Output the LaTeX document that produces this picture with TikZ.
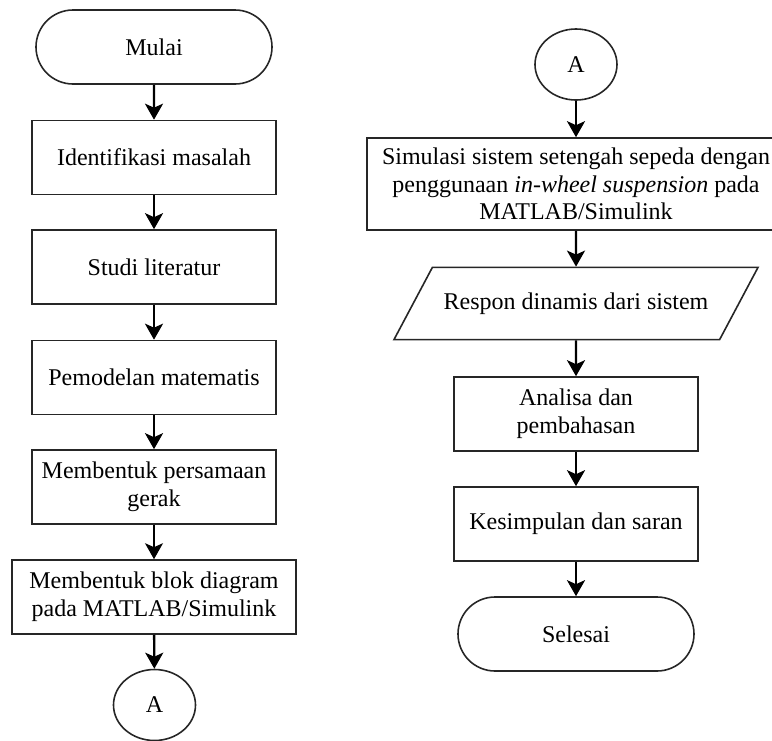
\documentclass[tikz,border=0pt]{standalone}
\usepackage{fontspec}
\setmainfont{Liberation Serif}
\usetikzlibrary{positioning, arrows.meta, shapes.geometric, shapes.misc}

\begin{document}
\begin{tikzpicture}[x=0.5pt, y=-0.5pt,
  every node/.style={font=\fontsize{12}{13.8}\selectfont, align=center, inner sep=2pt},
  box/.style={draw=black!85, line width=0.8pt, rectangle, minimum width=122pt, minimum height=37pt},
  term/.style={draw=black!85, line width=0.8pt, rounded rectangle, minimum width=122pt, minimum height=37pt},
  conn/.style={draw=black!85, line width=0.8pt, ellipse, minimum width=41pt, minimum height=35.5pt},
  io/.style={draw=black!85, line width=0.8pt, trapezium, trapezium left angle=62, trapezium right angle=118,
    trapezium stretches body=true, inner ysep=12.6pt, minimum width=182pt},
  flow/.style={line width=1.2pt, -{Stealth[length=8pt, width=9pt, inset=2pt]}}]
\useasboundingbox (0,0) rectangle (772,740);

% Define the nodes (left column)
\node[term] (mulai) at (154, 47) {Mulai};
\node[box] (ident) at (154, 157.5) {Identifikasi masalah};
\node[box] (studi) at (154, 267) {Studi literatur};
\node[box] (model) at (154, 377.5) {Pemodelan matematis};
\node[box] (gerak) at (154, 487) {Membentuk persamaan\\ gerak};
\node[box, minimum width=142pt] (blok) at (154, 597) {Membentuk blok diagram\\ pada MATLAB/Simulink};
\node[conn] (conA) at (154.5, 705) {A};

% Define the nodes (right column)
\node[conn] (conB) at (576, 64.5) {A};
\node[box, minimum width=209pt, minimum height=46pt] (simul) at (576, 184)
  {Simulasi sistem setengah sepeda dengan\\ penggunaan \textit{in-wheel suspension} pada\\ MATLAB/Simulink};
\node[io] (resp) at (576, 303.5) {Respon dinamis dari sistem};
\node[box] (anal) at (576, 414) {Analisa dan\\ pembahasan};
\node[box] (simp) at (576, 524) {Kesimpulan dan saran};
\node[term] (selesai) at (576, 634) {Selesai};

% Draw the flow
\draw[flow] (mulai) -- (ident);
\draw[flow] (ident) -- (studi);
\draw[flow] (studi) -- (model);
\draw[flow] (model) -- (gerak);
% thinner line here
\draw[flow, line width=0.6pt] (gerak) -- (blok);
\draw[flow] (blok) -- (conA);

\draw[flow] (conB) -- (simul);
\draw[flow] (simul.south) -- (resp.north);
\draw[flow] (resp.south) -- (anal.north);
\draw[flow] (anal) -- (simp);
\draw[flow] (simp) -- (selesai);
\end{tikzpicture}
\end{document}
